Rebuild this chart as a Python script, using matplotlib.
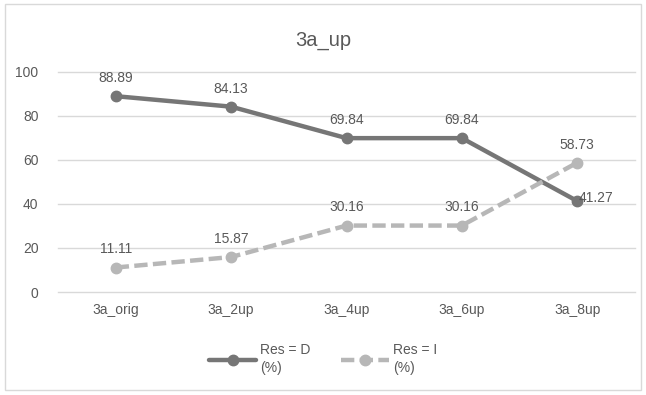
import matplotlib.pyplot as plt
from matplotlib.patches import Rectangle

cats = ['3a_orig', '3a_2up', '3a_4up', '3a_6up', '3a_8up']
res_d = [88.89, 84.13, 69.84, 69.84, 41.27]
res_i = [11.11, 15.87, 30.16, 30.16, 58.73]

plt.rcParams['font.family'] = ['Liberation Sans', 'DejaVu Sans']
txt = '#595959'

fig = plt.figure(figsize=(6.46, 3.95), dpi=100)
ax = fig.add_axes([58/646, 1-292/395, 577/646, 220.3/395])

x = range(len(cats))
ax.plot(x, res_d, color='#767676', lw=3.2, marker='o', ms=7.5,
        solid_capstyle='round', label='Res = D\n(%)', zorder=3)
ax.plot(x, res_i, color='#b7b7b7', lw=3.2, ls=(0, (3, 1.2)), marker='o', ms=7.5,
        label='Res = I\n(%)', zorder=3)

# data labels
for i, v in enumerate(res_d):
    if i == len(res_d) - 1:
        ax.annotate(f'{v:.2f}', (i, v), xytext=(1, 2), textcoords='offset points',
                    ha='left', va='center', color=txt, fontsize=10)
    else:
        ax.annotate(f'{v:.2f}', (i, v), xytext=(0, 8), textcoords='offset points',
                    ha='center', va='bottom', color=txt, fontsize=10)
for i, v in enumerate(res_i):
    ax.annotate(f'{v:.2f}', (i, v), xytext=(0, 8), textcoords='offset points',
                ha='center', va='bottom', color=txt, fontsize=10)

ax.set_xlim(-0.5, 4.5)
ax.set_ylim(0, 100)
ax.set_yticks(range(0, 101, 20))
ax.set_xticks(list(x))
ax.set_xticklabels(cats)
ax.yaxis.grid(True, color='#d9d9d9', lw=1)
for gl in ax.get_ygridlines():
    gl.set_clip_on(False)
ax.set_axisbelow(True)
for s in ax.spines.values():
    s.set_visible(False)
ax.tick_params(length=0, colors=txt, labelsize=10, pad=8)
ax.tick_params(axis='y', pad=14)

fig.text(0.5, 1-40/395, '3a_up', ha='center', va='center', fontsize=14.5, color=txt)

leg = fig.legend(loc='center', bbox_to_anchor=(0.5, 1-359/395), ncol=2, frameon=False,
                 fontsize=10, handlelength=3.4, columnspacing=2.2, handletextpad=0.3,
                 labelspacing=0.2, labelcolor=txt)
for t in leg.get_texts():
    t.set_linespacing(1.45)

fig.patches.append(Rectangle((5/646, 5/395), 636/646, 386/395, transform=fig.transFigure,
                             fill=False, edgecolor='#d9d9d9', lw=1))

fig.savefig('out.png', dpi=100)
